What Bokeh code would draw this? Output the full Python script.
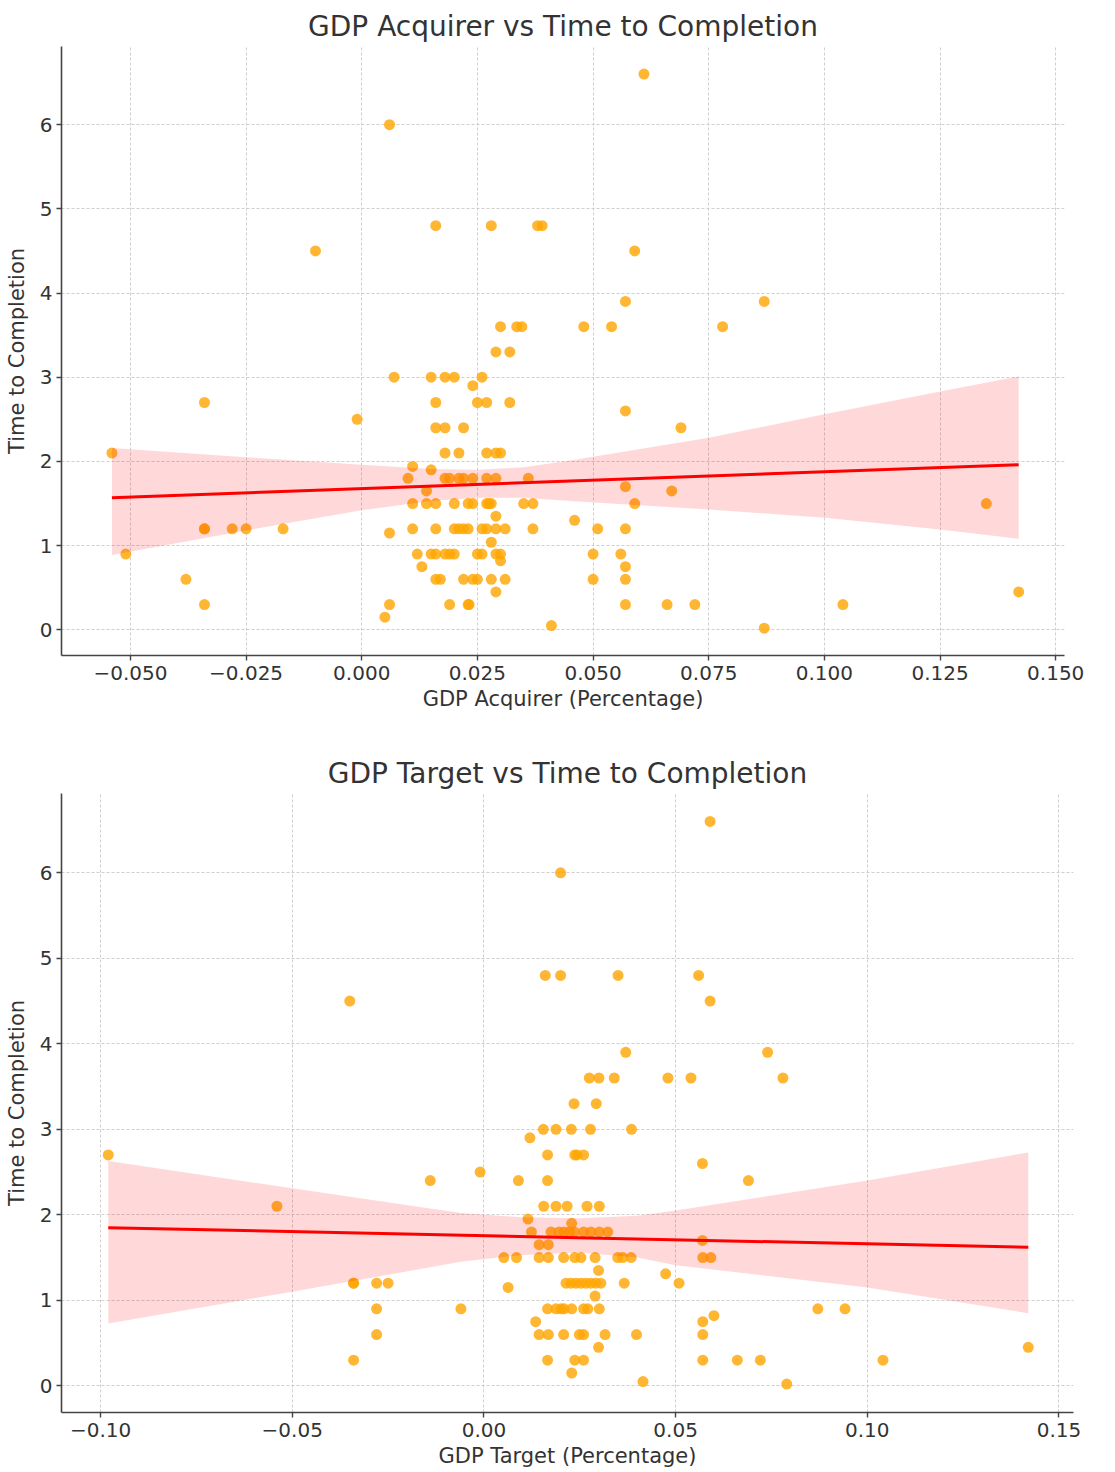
from bokeh.plotting import figure
from bokeh.layouts import column
from bokeh.models import FixedTicker, CustomJSTickFormatter, Range1d
from bokeh.embed import file_html
from bokeh.resources import INLINE

# ---- GDP Acquirer vs Time to Completion ----
acq_gdp = [
    0.061, 0.006, -0.010, 0.016, 0.028, 0.038, 0.039, 0.059, 0.057, 0.087,
    0.048, 0.054, 0.078, 0.030, 0.0335, 0.0346, 0.029, 0.032,
    0.007, 0.015, 0.018, 0.020, 0.026, 0.024,
    0.016, 0.025, 0.027, 0.032, -0.034, -0.001,
    0.016, 0.018, 0.022, 0.069, 0.057,
    0.018, 0.021, 0.027, 0.029, 0.030, -0.054,
    0.011, 0.015, 0.010,
    0.018, 0.019, 0.021, 0.022, 0.024, 0.027, 0.029, 0.036,
    0.057, 0.067, 0.014,
    0.011, 0.014, 0.016, 0.020, 0.023, 0.024, 0.027, 0.0275, 0.028, 0.035, 0.037,
    0.059, 0.135, 0.029, 0.046,
    0.011, 0.016, 0.020, 0.021, 0.022, 0.023, 0.026, 0.027, 0.029, 0.031, 0.037,
    0.051, 0.057, -0.034, -0.034, -0.028, -0.025, -0.017,
    0.006, 0.028,
    0.012, 0.015, 0.016, 0.018, 0.019, 0.020, 0.025, 0.026, 0.029, 0.030,
    0.050, 0.056, -0.051,
    0.030, 0.013, 0.057,
    0.016, 0.017, 0.022, 0.024, 0.025, 0.028, 0.031, 0.050, 0.057, -0.038,
    0.029, 0.142,
    0.006, 0.019, 0.023, 0.0232, -0.034, 0.057, 0.066, 0.072, 0.104,
    0.005, 0.041, 0.087,
]
acq_time = [
    6.6, 6.0, 4.5, 4.8, 4.8, 4.8, 4.8, 4.5, 3.9, 3.9,
    3.6, 3.6, 3.6, 3.6, 3.6, 3.6, 3.3, 3.3,
    3.0, 3.0, 3.0, 3.0, 3.0, 2.9,
    2.7, 2.7, 2.7, 2.7, 2.7, 2.5,
    2.4, 2.4, 2.4, 2.4, 2.6,
    2.1, 2.1, 2.1, 2.1, 2.1, 2.1,
    1.94, 1.9, 1.8,
    1.8, 1.8, 1.8, 1.8, 1.8, 1.8, 1.8, 1.8,
    1.7, 1.65, 1.65,
    1.5, 1.5, 1.5, 1.5, 1.5, 1.5, 1.5, 1.5, 1.5, 1.5, 1.5,
    1.5, 1.5, 1.35, 1.3,
    1.2, 1.2, 1.2, 1.2, 1.2, 1.2, 1.2, 1.2, 1.2, 1.2, 1.2,
    1.2, 1.2, 1.2, 1.2, 1.2, 1.2, 1.2,
    1.15, 1.04,
    0.9, 0.9, 0.9, 0.9, 0.9, 0.9, 0.9, 0.9, 0.9, 0.9,
    0.9, 0.9, 0.9,
    0.82, 0.75, 0.75,
    0.6, 0.6, 0.6, 0.6, 0.6, 0.6, 0.6, 0.6, 0.6, 0.6,
    0.45, 0.45,
    0.3, 0.3, 0.3, 0.3, 0.3, 0.3, 0.3, 0.3, 0.3,
    0.15, 0.05, 0.02,
]
acq_fit_x = [-0.054, 0.142]
acq_fit_y = [1.57, 1.96]
acq_band_x = [-0.054, -0.025, 0.000, 0.015, 0.025, 0.035, 0.045, 0.075, 0.100, 0.125, 0.142]
acq_band_hi = [2.16, 2.05, 1.96, 1.91, 1.90, 1.93, 2.01, 2.28, 2.56, 2.83, 3.01]
acq_band_lo = [0.89, 1.18, 1.42, 1.53, 1.57, 1.57, 1.53, 1.43, 1.33, 1.19, 1.08]
acq_ticks = [-0.05, -0.025, 0.0, 0.025, 0.05, 0.075, 0.1, 0.125, 0.15]

# ---- GDP Target vs Time to Completion ----
tgt_gdp = [
    -0.098, -0.054, -0.014, -0.034, -0.034, -0.028, -0.025, -0.028, -0.028, -0.034, -0.006,
    -0.035, 0.020, 0.016, 0.020, 0.035, 0.056, 0.059, 0.059, 0.037, 0.074,
    0.0275, 0.030, 0.034, 0.048, 0.054, 0.078,
    0.0235, 0.0293,
    0.0155, 0.0188, 0.0228, 0.0278, 0.0385,
    0.012,
    0.0166, 0.0237, 0.0243, 0.026,
    -0.001, 0.009, 0.0166, 0.057, 0.069,
    0.0156, 0.0188, 0.0217, 0.0269, 0.0301,
    0.0115, 0.0229,
    0.0124, 0.0175, 0.0196, 0.0209, 0.0223, 0.0236, 0.0260, 0.0279, 0.0301, 0.0323,
    0.057, 0.0144, 0.0168,
    0.0052, 0.0085, 0.0144, 0.0168, 0.0208, 0.0237, 0.0253, 0.0290, 0.0349, 0.0362, 0.0384,
    0.0571, 0.0592,
    0.0299, 0.0474, 0.0063,
    0.0214, 0.0227, 0.0240, 0.0253, 0.0266, 0.0279, 0.0292, 0.0305, 0.0366, 0.0509,
    0.029,
    0.0166, 0.0188, 0.0201, 0.0209, 0.0229, 0.0260, 0.0271, 0.0301, 0.0871, 0.0942,
    0.0135, 0.0571, 0.060,
    0.0144, 0.0168, 0.0208, 0.0249, 0.0260, 0.0316, 0.0398, 0.0571,
    0.0299,
    0.0166, 0.0237, 0.0260, 0.0571, 0.0661, 0.0721, 0.1041,
    0.0229, 0.0415, 0.079, 0.142,
]
tgt_time = [
    2.7, 2.1, 2.4, 1.2, 1.2, 1.2, 1.2, 0.9, 0.6, 0.3, 0.9,
    4.5, 6.0, 4.8, 4.8, 4.8, 4.8, 6.6, 4.5, 3.9, 3.9,
    3.6, 3.6, 3.6, 3.6, 3.6, 3.6,
    3.3, 3.3,
    3.0, 3.0, 3.0, 3.0, 3.0,
    2.9,
    2.7, 2.7, 2.7, 2.7,
    2.5, 2.4, 2.4, 2.6, 2.4,
    2.1, 2.1, 2.1, 2.1, 2.1,
    1.95, 1.9,
    1.8, 1.8, 1.8, 1.8, 1.8, 1.8, 1.8, 1.8, 1.8, 1.8,
    1.7, 1.65, 1.65,
    1.5, 1.5, 1.5, 1.5, 1.5, 1.5, 1.5, 1.5, 1.5, 1.5, 1.5,
    1.5, 1.5,
    1.35, 1.31, 1.15,
    1.2, 1.2, 1.2, 1.2, 1.2, 1.2, 1.2, 1.2, 1.2, 1.2,
    1.05,
    0.9, 0.9, 0.9, 0.9, 0.9, 0.9, 0.9, 0.9, 0.9, 0.9,
    0.75, 0.75, 0.82,
    0.6, 0.6, 0.6, 0.6, 0.6, 0.6, 0.6, 0.6,
    0.45,
    0.3, 0.3, 0.3, 0.3, 0.3, 0.3, 0.3,
    0.15, 0.05, 0.02, 0.45,
]
tgt_fit_x = [-0.098, 0.142]
tgt_fit_y = [1.85, 1.62]
tgt_band_x = [-0.098, -0.050, -0.006, 0.010, 0.025, 0.040, 0.050, 0.100, 0.142]
tgt_band_hi = [2.63, 2.31, 2.02, 1.97, 1.96, 1.99, 2.05, 2.40, 2.73]
tgt_band_lo = [0.73, 1.10, 1.45, 1.53, 1.56, 1.50, 1.41, 1.15, 0.85]
tgt_ticks = [-0.10, -0.05, 0.0, 0.05, 0.10, 0.15]

time_ticks = [0, 1, 2, 3, 4, 5, 6]

FONT = "DejaVu Sans"
TEXT = "#333333"


def make_panel(title, xlabel, xs, ys, fit_x, fit_y, band_x, band_lo, band_hi,
               xticks, decimals, x_range, y_range, frame_w, frame_h,
               left, top, bottom, right):
    p = figure(
        output_backend="svg", toolbar_location=None,
        frame_width=frame_w, frame_height=frame_h,
        min_border_left=left, min_border_top=top,
        min_border_bottom=bottom, min_border_right=right,
        x_range=Range1d(*x_range), y_range=Range1d(*y_range),
        title=title,
    )
    p.outline_line_color = None
    p.background_fill_color = "white"
    p.border_fill_color = "white"

    p.title.text_font = FONT
    p.title.text_font_size = "28px"
    p.title.text_font_style = "normal"
    p.title.text_color = TEXT
    p.title.align = "center"
    p.title.standoff = 8

    # scatter first, then the confidence band and fitted line on top
    p.scatter(xs, ys, size=11, fill_color="#FFA500", fill_alpha=0.8,
              line_color=None)
    p.varea(x=band_x, y1=band_lo, y2=band_hi, fill_color="red", fill_alpha=0.15)
    p.line(fit_x, fit_y, line_color="red", line_width=3)

    for ax in (p.xaxis, p.yaxis):
        ax.axis_line_color = "#444444"
        ax.axis_line_width = 1.6
        ax.major_tick_line_color = "#444444"
        ax.major_tick_line_width = 1.4
        ax.major_tick_out = 5
        ax.major_tick_in = 0
        ax.minor_tick_line_color = None
        ax.major_label_text_font = FONT
        ax.major_label_text_font_size = "20px"
        ax.major_label_text_color = TEXT
        ax.axis_label_text_font = FONT
        ax.axis_label_text_font_size = "21px"
        ax.axis_label_text_font_style = "normal"
        ax.axis_label_text_color = TEXT

    p.xaxis.axis_label = xlabel
    p.yaxis.axis_label = "Time to Completion"
    p.xaxis.ticker = FixedTicker(ticks=xticks)
    p.yaxis.ticker = FixedTicker(ticks=time_ticks)
    p.xaxis.formatter = CustomJSTickFormatter(
        args=dict(d=decimals),
        code="const s = Math.abs(tick).toFixed(d); return (tick < -1e-12 ? '\u2212' : '') + s;",
    )
    p.xaxis.major_label_standoff = 5
    p.yaxis.major_label_standoff = 4
    p.xaxis.axis_label_standoff = 4
    p.yaxis.axis_label_standoff = 8

    for g in (p.xgrid, p.ygrid):
        g.grid_line_color = "#cfcfcf"
        g.grid_line_width = 1
        g.grid_line_dash = "3 2"
    return p


top_panel = make_panel(
    "GDP Acquirer vs Time to Completion", "GDP Acquirer (Percentage)",
    acq_gdp, acq_time, acq_fit_x, acq_fit_y, acq_band_x, acq_band_lo, acq_band_hi,
    acq_ticks, 3, (-0.0649, 0.1519), (-0.305, 6.928), 1003, 609,
    57, 46, 65, 55,
)
bottom_panel = make_panel(
    "GDP Target vs Time to Completion", "GDP Target (Percentage)",
    tgt_gdp, tgt_time, tgt_fit_x, tgt_fit_y, tgt_band_x, tgt_band_lo, tgt_band_hi,
    tgt_ticks, 2, (-0.1102, 0.1538), (-0.312, 6.927), 1012, 619,
    61, 73, 60, 42,
)

layout = column(top_panel, bottom_panel, spacing=0)
open("out.html", "w").write(file_html(layout, INLINE))
